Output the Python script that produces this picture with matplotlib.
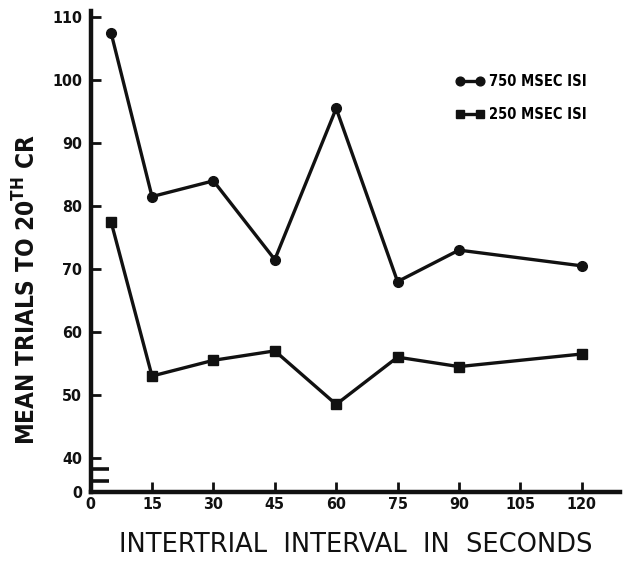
import matplotlib
matplotlib.use("Agg")
from matplotlib import pyplot as plt

plt.rcParams['font.family'] = ['DejaVu Sans']
plt.rcParams['mathtext.default'] = 'regular'

# data
iti = [5, 15, 30, 45, 60, 75, 90, 120]
isi_750 = [107.5, 81.5, 84, 71.5, 95.5, 68, 73, 70.5]
isi_250 = [77.5, 53, 55.5, 57, 48.5, 56, 54.5, 56.5]

x_ticks = [0, 15, 30, 45, 60, 75, 90, 105, 120]
y_ticks = [40, 50, 60, 70, 80, 90, 100, 110]
y_floor = 34.6          # where the broken axis shows "0"

ink = '#111111'

fig = plt.figure(figsize=(6.35, 5.7), dpi=100)
ax = fig.add_axes([0.1427, 0.137, 0.834, 0.844])

ax.plot(iti, isi_750, color=ink, lw=2.4, marker='o', ms=7, label='750 MSEC ISI')
ax.plot(iti, isi_250, color=ink, lw=2.4, marker='s', ms=6.5, label='250 MSEC ISI')

ax.set_xlim(0, 129.4)
ax.set_ylim(y_floor, 111)

for s in ['top', 'right']:
    ax.spines[s].set_visible(False)
for s in ['left', 'bottom']:
    ax.spines[s].set_linewidth(3.2)
    ax.spines[s].set_color(ink)

tick_font = dict(family='DejaVu Sans', stretch='condensed', weight='bold', size=11.5)

ax.set_xticks(x_ticks)
ax.set_xticklabels([str(v) for v in x_ticks], fontdict=tick_font)
ax.set_yticks([y_floor] + y_ticks)
ax.set_yticklabels(['0'] + [str(v) for v in y_ticks], fontdict=tick_font)
ax.tick_params(axis='both', direction='in', length=7, width=2, color=ink, labelcolor=ink)
ax.tick_params(axis='x', pad=4)
ax.tick_params(axis='y', pad=6)

# axis break comb near the bottom of the y axis
for yb in [38.2, 36.4]:
    ax.plot([0, 4.5], [yb, yb], color=ink, lw=2.6, solid_capstyle='butt', clip_on=False)

ax.set_xlabel('INTERTRIAL  INTERVAL  IN  SECONDS', fontsize=18.5, color=ink, labelpad=14)
ax.set_ylabel('MEAN TRIALS TO 20$^{TH}$ CR', fontsize=17.5, weight='bold', stretch='condensed',
              color=ink, labelpad=12)
ax.yaxis.set_label_coords(-0.095, 0.42)

leg = ax.legend(loc='upper right', bbox_to_anchor=(0.962, 0.895), frameon=False, numpoints=2,
                handlelength=2.0, handletextpad=0.3, labelspacing=1.2, markerscale=0.9,
                prop=dict(family='DejaVu Sans', stretch='condensed', weight='bold', size=10.5))

plt.savefig('out.png', dpi=100)
